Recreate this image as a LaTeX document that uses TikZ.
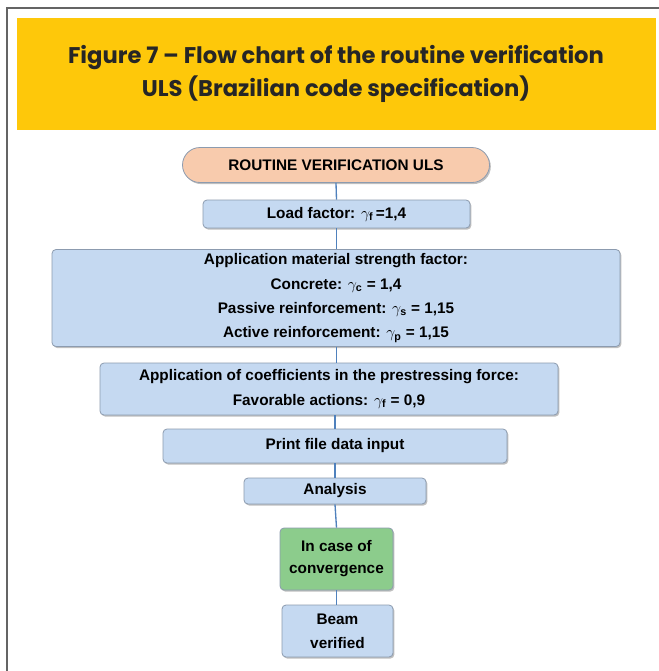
\documentclass[tikz,border=0pt]{standalone}
\usepackage{fontspec}
\setmainfont{Liberation Sans}
\newfontfamily\titlefont{Poppins}
\usetikzlibrary{shapes.misc,shadows}
\definecolor{titleyellow}{RGB}{254,200,10}
\definecolor{boxblue}{RGB}{197,217,241}
\definecolor{boxedge}{RGB}{140,155,175}
\definecolor{boxgreen}{RGB}{140,204,140}
\definecolor{peach}{RGB}{248,203,173}
\definecolor{linkblue}{RGB}{79,129,189}
\definecolor{framegray}{RGB}{100,100,100}
\begin{document}
\begin{tikzpicture}[x=0.75pt,y=-0.75pt,
  every node/.style={font=\fontsize{11.5}{18.3}\selectfont\bfseries, align=center, inner sep=0pt},
  flowbox/.style={rectangle, rounded corners=3pt, draw=boxedge, line width=0.6pt, fill=boxblue,
     drop shadow={shadow xshift=1pt, shadow yshift=-1.2pt, fill=black, opacity=0.25}},
  greenbox/.style={flowbox, fill=boxgreen},
  startbox/.style={rounded rectangle, draw=boxedge, line width=0.6pt, fill=peach,
     drop shadow={shadow xshift=1pt, shadow yshift=-1.2pt, fill=black, opacity=0.25}},
  link/.style={draw=linkblue, line width=1pt}]
\useasboundingbox (0,0) rectangle (659,671);
\fill[white] (0,0) rectangle (659,671);
% frame
\draw[framegray, line width=1.4pt] (7,671) -- (7,8) -- (659,8);
% title band
\fill[titleyellow] (17,18) rectangle (656,130);
\node[font=\titlefont\bfseries\fontsize{17}{25}\selectfont, text=black!85] (title) at (336,74)
  {Figure 7 – Flow chart of the routine verification\\ULS (Brazilian code specification)};
% nodes
\node[startbox, minimum width=307*0.75pt, minimum height=35*0.75pt] (start) at (336,165) {ROUTINE VERIFICATION ULS};
\node[flowbox, minimum width=267*0.75pt, minimum height=28*0.75pt] (load) at (336.5,214) {Load factor: $\gamma_{\mathbf{f}}$\,=1,4};
\node[flowbox, minimum width=568*0.75pt, minimum height=97*0.75pt] (mat) at (336,298)
  {Application material strength factor:\\Concrete: $\gamma_{\mathbf{c}}$ = 1,4\\Passive reinforcement: $\gamma_{\mathbf{s}}$ = 1,15\\Active reinforcement: $\gamma_{\mathbf{p}}$ = 1,15};
\node[flowbox, minimum width=458*0.75pt, minimum height=52*0.75pt] (pre) at (329,389)
  {Application of coefficients in the prestressing force:\\Favorable actions: $\gamma_{\mathbf{f}}$ = 0,9};
\node[flowbox, minimum width=344*0.75pt, minimum height=34*0.75pt] (print) at (335,446) {Print file data input};
\node[flowbox, minimum width=182*0.75pt, minimum height=26*0.75pt] (anal) at (335,491) {Analysis};
\node[greenbox, minimum width=113*0.75pt, minimum height=62*0.75pt, font=\fontsize{11.5}{16.5}\selectfont\bfseries] (conv) at (336.5,559) {In case of\\convergence};
\node[flowbox, minimum width=111*0.75pt, minimum height=52*0.75pt] (beam) at (337.5,631) {Beam\\verified};
% connectors
\draw[link] (start.south) -- (load.north);
\draw[link] (load.south) -- (load.south |- mat.north);
\draw[link] (load.south |- mat.south) -- (load.south |- pre.north);
\draw[link] (print.north) -- (print.north |- pre.south);
\draw[link] (print.south) -- (anal.north);
\draw[link] (anal.south) -- (conv.north);
\draw[link] (conv.south) -- (conv.south |- beam.north);
\end{tikzpicture}
\end{document}
